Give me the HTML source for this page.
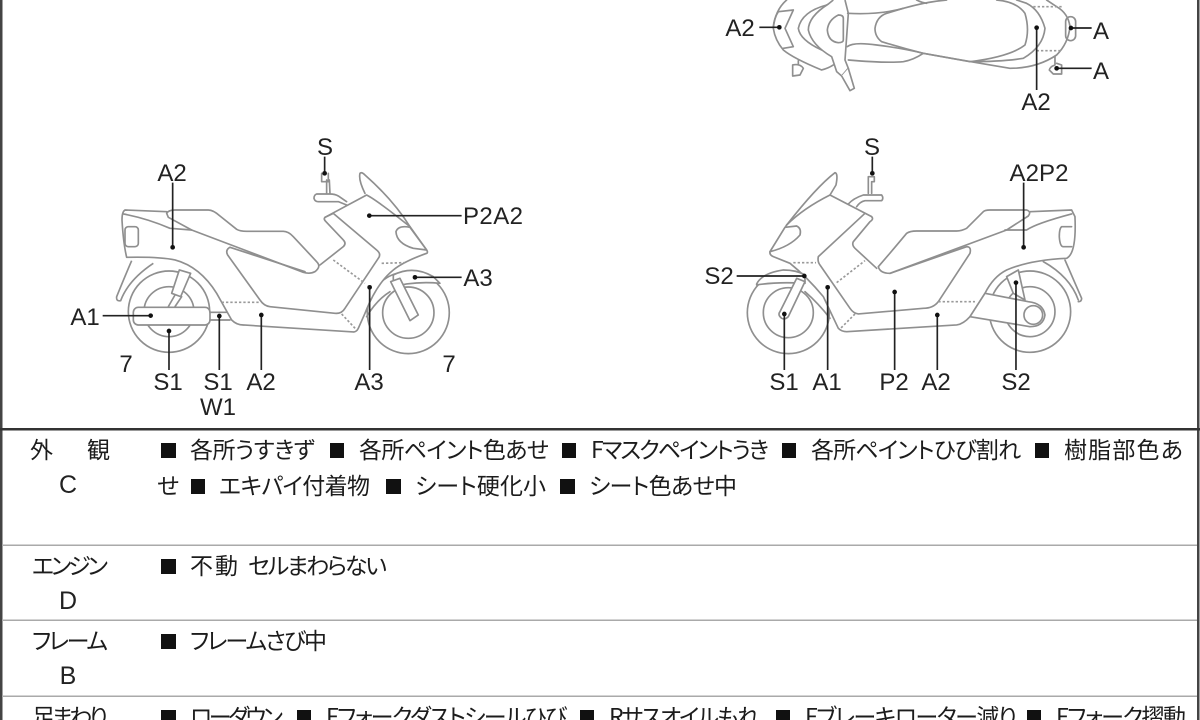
<!DOCTYPE html>
<html><head><meta charset="utf-8">
<style>
html,body{margin:0;padding:0;background:#fff;width:1200px;height:720px;overflow:hidden}
svg{display:block}
.o{fill:none;stroke:#8f8f8f;stroke-width:5;stroke-linejoin:round;stroke-linecap:round}
.w{fill:#fff;stroke:#8f8f8f;stroke-width:5;stroke-linejoin:round}
.f{fill:#fff;stroke:none}
.d{fill:none;stroke:#9a9a9a;stroke-width:5;stroke-dasharray:7 6}
.l{stroke:#222;stroke-width:5;fill:none}
.l2{fill:#111}
text{font-family:"Liberation Sans","Noto Sans CJK JP",sans-serif;fill:#222}
.a{font-size:24px;text-anchor:middle}
.t{font-size:23px;font-family:"Noto Sans CJK JP",sans-serif;font-feature-settings:"palt";fill:#1c1c1c}
.m{font-size:25px;text-anchor:middle}
.b{fill:#111}
</style></head><body>
<svg width="1200" height="720" viewBox="0 0 1200 720" xmlns="http://www.w3.org/2000/svg">
<rect width="1200" height="720" fill="#fff"/>

<!-- top view -->
<g transform="translate(770,0) scale(.3333)">
<path class="o" d="M50,0 Q15,30 10,85 Q15,120 40,150 Q70,175 155,210 Q175,205 190,195"/>
<path class="o" d="M25,35 L70,30 L45,85 L70,140 L40,145 M25,35 Q12,55 10,80"/>
<path class="o" d="M170,15 Q95,35 85,85 Q90,120 155,150"/>
<path class="w" d="M190,0 L175,12 Q115,50 115,90 Q125,135 185,170 L200,215 L215,228 L235,205 L225,180 L235,40 L225,0"/>
<path class="o" d="M205,45 Q175,60 172,90 Q175,125 205,128 Q220,128 220,120 L220,55 Q220,45 205,45 Z"/>
<path class="w" d="M215,228 L240,272 L253,265 L235,205"/>
<path class="o" d="M68,195 L68,228 L90,225 L100,205 Q90,190 68,195 M85,192 L85,182"/>
<path class="o" d="M233,40 Q330,45 400,25 Q470,5 530,0 M440,0 Q455,8 470,10"/>
<path class="o" d="M680,0 Q740,5 765,40 Q780,90 765,135 Q720,170 600,185 L460,160 Q400,145 335,125 Q315,110 315,85 Q320,50 350,40 L400,25"/>
<path class="o" d="M232,140 Q250,125 320,135 Q400,145 460,160 Q600,185 720,205 Q800,205 860,165 Q895,130 900,80 Q895,40 860,20 L830,0"/>
<path class="o" d="M235,180 Q350,190 400,185 Q430,180 460,160"/>
<path class="o" d="M600,185 Q700,185 760,175 Q820,140 825,85 Q810,30 770,10 L740,0"/>
<rect class="o" x="887" y="50" width="30" height="72" rx="15"/>
<path class="o" d="M855,170 L855,195 Q840,200 838,210 L850,222 L875,222 L875,195 L860,190"/>
<path class="d" d="M790,20 L880,20 M800,152 L875,152"/>
<path class="l" d="M-32,82 L28,82 M965,84 L903,84 M965,205 L860,205 M800,270 L800,83"/>
<circle class="l2" cx="28" cy="82" r="7"/><circle class="l2" cx="903" cy="84" r="7"/><circle class="l2" cx="860" cy="205" r="7"/><circle class="l2" cx="800" cy="83" r="7"/>
</g>

<!-- left bike -->
<g transform="translate(60,130) scale(.3333)">
<circle class="o" cx="327" cy="545" r="122"/>
<circle class="o" cx="327" cy="545" r="75"/>
<circle class="o" cx="1045" cy="548" r="123"/>
<circle class="o" cx="1045" cy="548" r="77"/>
<path class="f" d="M320,245 L195,240 Q186,245 186,270 Q190,340 200,382 Q300,380 345,390 Q420,410 470,490 L515,570 Q530,585 550,585 L880,606 Q890,606 895,595 L915,550 Q950,460 1000,420 Q1030,395 1100,370 Q1105,368 1100,360 L1050,290 Q950,210 920,195 L795,262 Z"/>
<path class="o" d="M320,245 L195,240 Q186,245 186,270 Q190,340 200,382 Q300,380 345,390 Q420,410 470,490 L515,570 Q530,585 550,585 L880,606 Q890,606 895,595 L915,550 Q950,460 1000,420 Q1030,395 1100,370 Q1105,368 1100,360 L1050,290 Q950,210 920,195 L795,262"/>
<path class="w" d="M215,392 Q190,450 170,500 Q168,515 182,512 Q205,450 280,400"/>
<path class="w" d="M358,420 L392,430 L362,500 L335,490 Z"/>
<path class="o" d="M345,495 L325,530 M365,500 L345,530"/>
<rect class="w" x="220" y="532" width="230" height="53" rx="15"/>
<path class="o" d="M450,547 L500,547 M450,570 L510,570"/>
<path class="w" d="M320,250 Q325,240 345,240 L445,240 Q460,240 480,258 L530,298 Q540,304 560,304 L670,304 Q685,304 700,320 L770,395 Q785,410 765,425 Q750,433 730,427 L395,300 L325,262 Z"/>
<path class="o" d="M190,252 Q260,265 330,295 L395,300"/>
<rect class="o" x="195" y="290" width="40" height="60" rx="10"/>
<path class="o" d="M510,352 Q495,360 503,375 L600,510 Q612,528 630,530 L825,550 Q845,552 855,535 L955,385 Q965,372 950,360 L820,250 L795,262 Q790,268 798,275 L850,330 Q860,340 850,350 L780,405"/>
<path class="o" d="M510,352 L735,425"/>
<path class="o" d="M915,190 Q895,150 900,130 Q905,125 915,135 Q1000,210 1050,290"/>
<path class="w" d="M1050,292 Q1015,285 1008,305 Q1010,340 1060,355 L1100,360 Z"/>
<path class="o" d="M860,215 L835,198 Q825,192 810,192 L770,192 Q762,195 762,205 Q765,215 775,215 L835,215 L860,225"/>
<path class="o" d="M800,190 L800,150 M810,190 L808,150 M785,130 L785,155 L805,155 L805,130"/>
<path class="o" d="M990,485 Q950,510 920,560"/>
<path class="w" d="M1000,435 Q1060,405 1120,440 L1140,460 Q1090,455 1040,462 L1000,470 Z"/>
<path class="w" d="M992,455 L1020,445 L1075,555 L1050,572 Z"/>
<path class="d" d="M820,390 L915,460 M965,400 L1035,398 M485,517 L600,517 M845,552 L890,600"/>
<path class="l" d="M794,80 L794,130 M1205,257 L928,257 M338,158 L338,352 M1205,442 L1065,442 M128,557 L272,557 M327,603 L327,720 M478,558 L478,720 M604,555 L604,720 M929,472 L929,720"/>
<circle class="l2" cx="794" cy="130" r="7"/><circle class="l2" cx="928" cy="257" r="7"/><circle class="l2" cx="338" cy="352" r="7"/><circle class="l2" cx="1065" cy="442" r="7"/><circle class="l2" cx="272" cy="557" r="7"/><circle class="l2" cx="327" cy="603" r="7"/><circle class="l2" cx="478" cy="558" r="7"/><circle class="l2" cx="604" cy="555" r="7"/><circle class="l2" cx="929" cy="472" r="7"/>
</g>

<!-- right bike -->
<g transform="translate(690,130) scale(.3333)">
<circle class="o" cx="295" cy="548" r="123"/>
<circle class="o" cx="295" cy="548" r="75"/>
<circle class="o" cx="1020" cy="545" r="122"/>
<circle class="o" cx="1020" cy="545" r="75"/>
<path class="f" d="M545,260 L420,195 Q340,235 290,285 L240,365 Q238,375 250,380 L300,400 Q350,440 400,500 L445,595 Q455,605 470,605 L800,585 Q820,582 840,560 L885,490 Q910,440 950,420 Q1020,390 1130,385 Q1160,370 1155,260 L1145,240 L1020,245 Z"/>
<path class="o" d="M545,260 L420,195 Q340,235 290,285 L240,365 Q238,375 250,380 L300,400 Q350,440 400,500 L445,595 Q455,605 470,605 L800,585 Q820,582 840,560 L885,490 Q910,440 950,420 Q1020,390 1130,385 Q1160,370 1155,260 L1145,240 L1020,245"/>
<path class="o" d="M1060,395 Q1140,440 1165,510 M1125,390 L1175,505 Q1175,515 1165,515"/>
<path class="o" d="M345,485 Q385,520 420,565"/>
<path class="w" d="M200,462 Q215,430 280,420 Q320,420 345,435 L345,460 Q260,455 200,465 Z"/>
<path class="w" d="M320,445 L345,455 L295,560 Q285,570 275,565 Q262,555 270,545 Z"/>
<path class="w" d="M885,490 L1015,515 Q1060,520 1065,555 Q1060,590 1020,590 L840,560 Z"/>
<circle class="o" cx="1030" cy="555" r="28"/>
<path class="w" d="M950,440 L985,420 L1005,510 L970,490 Z"/>
<path class="o" d="M525,250 L385,380 Q382,395 390,405 L480,535 Q490,550 505,552 L700,535 Q730,535 745,515 L840,370 Q845,350 830,350 L600,430"/>
<path class="o" d="M545,260 Q552,268 540,275 L490,335 Q485,345 495,355 L560,415"/>
<path class="w" d="M600,430 Q570,430 565,410 Q600,370 650,310 Q660,303 680,303 L800,303 Q815,303 830,295 L880,245 Q885,240 900,240 L1010,240 Q1025,245 1015,258 L950,300 Z"/>
<path class="o" d="M945,300 L1010,300 Q1040,280 1145,252"/>
<path class="o" d="M1145,290 L1115,290 Q1108,295 1108,320 Q1110,350 1120,350 L1145,350"/>
<path class="o" d="M290,285 Q380,170 435,128 Q445,130 438,165 L420,195"/>
<path class="w" d="M285,292 L320,288 Q335,295 330,315 Q300,350 240,365 Z"/>
<path class="o" d="M475,222 Q490,205 520,195 L575,195 Q582,205 575,212 L525,212 Q510,215 500,230"/>
<path class="o" d="M535,190 L535,140 L553,140 L553,155 L545,155 L545,190"/>
<path class="d" d="M310,398 L378,398 M440,458 L525,392 M495,552 L450,597 M745,515 L855,515"/>
<path class="l" d="M547,80 L547,130 M140,438 L343,438 M413,472 L413,720 M283,552 L283,720 M614,486 L614,720 M742,555 L742,720 M978,458 L978,720 M1001,158 L1001,352"/>
<circle class="l2" cx="547" cy="130" r="7"/><circle class="l2" cx="343" cy="438" r="7"/><circle class="l2" cx="413" cy="472" r="7"/><circle class="l2" cx="283" cy="552" r="7"/><circle class="l2" cx="614" cy="486" r="7"/><circle class="l2" cx="742" cy="555" r="7"/><circle class="l2" cx="978" cy="458" r="7"/><circle class="l2" cx="1001" cy="352" r="7"/>
</g>

<!-- labels -->
<text class="a" x="740" y="36">A2</text><text class="a" x="1101" y="39">A</text><text class="a" x="1101" y="79">A</text><text class="a" x="1036" y="110">A2</text>
<text class="a" x="325" y="155">S</text><text class="a" x="172" y="181">A2</text><text class="a" x="493" y="224" textLength="60">P2A2</text><text class="a" x="478" y="286">A3</text><text class="a" x="85" y="325">A1</text><text class="a" x="126" y="372">7</text><text class="a" x="168" y="390">S1</text><text class="a" x="218" y="390">S1</text><text class="a" x="218" y="415">W1</text><text class="a" x="261" y="390">A2</text><text class="a" x="369" y="390">A3</text><text class="a" x="449" y="372">7</text>
<text class="a" x="872" y="155">S</text><text class="a" x="1039" y="181" textLength="59">A2P2</text><text class="a" x="719" y="284">S2</text><text class="a" x="784" y="390">S1</text><text class="a" x="827" y="390">A1</text><text class="a" x="894" y="390">P2</text><text class="a" x="936" y="390">A2</text><text class="a" x="1016" y="390">S2</text>

<!-- frame -->
<rect x="0" y="0" width="2.5" height="720" fill="#444"/>
<rect x="1197" y="0" width="2.5" height="720" fill="#444"/>
<rect x="0" y="428" width="1200" height="2.5" fill="#333"/>
<rect x="2" y="544.5" width="1195" height="1.5" fill="#aaa"/>
<rect x="2" y="619.5" width="1195" height="1.5" fill="#aaa"/>
<rect x="2" y="695.5" width="1195" height="1.5" fill="#aaa"/>

<!-- bullet squares -->
<g class="b">
<rect x="161" y="443" width="15" height="15"/><rect x="330" y="443" width="14" height="15"/><rect x="562" y="443" width="14" height="15"/><rect x="782" y="443" width="14" height="15"/><rect x="1035" y="443" width="14" height="15"/>
<rect x="191" y="479" width="14" height="15"/><rect x="386" y="479" width="15" height="15"/><rect x="560" y="479" width="15" height="15"/>
<rect x="161" y="559" width="15" height="15"/><rect x="161" y="634" width="15" height="15"/>
<rect x="161" y="710" width="15" height="10"/><rect x="297" y="710" width="14" height="10"/><rect x="580" y="710" width="14" height="10"/><rect x="776" y="710" width="14" height="10"/><rect x="1027" y="710" width="14" height="10"/>
</g>

<!-- left column -->
<text class="t" x="30" y="458">外</text><text class="t" x="87" y="458">観</text><text class="m" x="68" y="493">C</text>
<text class="t" x="32" y="574" textLength="76">エンジン</text><text class="m" x="68" y="609">D</text>
<text class="t" x="32" y="649" textLength="76">フレーム</text><text class="m" x="68" y="684">B</text>
<text class="t" x="32" y="725" textLength="76">足まわり</text>

<!-- row 1 -->
<text class="t" x="190" y="458" textLength="125">各所うすきず</text>
<text class="t" x="359" y="458" textLength="190">各所ペイント色あせ</text>
<text class="t" x="591" y="458" textLength="178">Fマスクペイントうき</text>
<text class="t" x="811" y="458" textLength="210">各所ペイントひび割れ</text>
<text class="t" x="1064" y="458" textLength="119">樹脂部色あ</text>
<text class="t" x="157" y="494">せ</text>
<text class="t" x="219" y="494" textLength="151">エキパイ付着物</text>
<text class="t" x="415" y="494" textLength="131">シート硬化小</text>
<text class="t" x="589" y="494" textLength="148">シート色あせ中</text>
<!-- row 2 -->
<text class="t" x="190" y="574" textLength="48">不動</text><text class="t" x="248" y="574" textLength="139">セルまわらない</text>
<!-- row 3 -->
<text class="t" x="190" y="649" textLength="137">フレームさび中</text>
<!-- row 4 -->
<text class="t" x="190" y="725" textLength="93">ローダウン</text>
<text class="t" x="326" y="725" textLength="241">Fフォークダストシールひび</text>
<text class="t" x="609" y="725" textLength="151">Rサスオイルもれ</text>
<text class="t" x="805" y="725" textLength="212">Fブレーキローター減り</text>
<text class="t" x="1056" y="725" textLength="130">Fフォーク摺動</text>
</svg>
</body></html>
